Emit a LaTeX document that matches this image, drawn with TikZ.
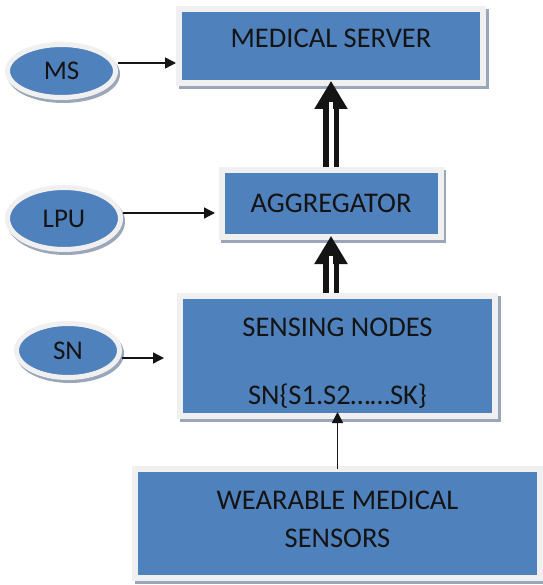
\documentclass[tikz,border=0pt]{standalone}
\usepackage{fontspec}
\setmainfont{Carlito}
\definecolor{officeblue}{HTML}{4F81BD}
\definecolor{rimgray}{HTML}{F0F0F0}
\definecolor{shadegray}{HTML}{9AA6BA}
\definecolor{inkblack}{HTML}{141414}
\usepackage{tikz}
\usetikzlibrary{arrows.meta,shadows,shapes.geometric}

\begin{document}
\begin{tikzpicture}[x=1pt,y=-1pt,
  block/.style={rectangle,fill=officeblue,draw=rimgray,line width=6pt,inner sep=0pt,
    text=inkblack,font=\fontsize{28.5}{33}\selectfont,align=center,
    drop shadow={shadow xshift=2.5pt,shadow yshift=-3pt,opacity=1,
      fill=shadegray,draw=shadegray,line width=6pt}},
  unit/.style={ellipse,fill=officeblue,draw=rimgray,line width=5pt,inner sep=0pt,
    text=inkblack,font=\fontsize{27}{32}\selectfont,
    drop shadow={shadow xshift=2pt,shadow yshift=-3pt,opacity=1,
      fill=shadegray,draw=shadegray,line width=5pt}},
  feed/.style={-{Triangle[width=11pt,length=11pt]},line width=1.4pt,inkblack},
  lift/.style={-{Triangle[width=32pt,length=28pt]},double=white,double distance=5pt,
    line width=5.5pt,inkblack,
    postaction={draw=white,line width=4pt,-,shorten >=16pt,shorten <=1pt}}]
  \useasboundingbox[fill=white] (0,0) rectangle (542,585);
  % boxes down the middle
  \node[block,minimum width=304pt,minimum height=74pt,text height=18.4pt,text depth=15pt]
    (server) at (331,46) {MEDICAL SERVER};
  \node[block,minimum width=219pt,minimum height=67pt,text height=18.4pt,text depth=0pt]
    (agg) at (331,203.5) {AGGREGATOR};
  \node[block,minimum width=315pt,minimum height=120pt]
    (sense) at (337.5,356) {\rule{0pt}{32pt}SENSING NODES\\[35pt]SN\{S1.S2……SK\}};
  \node[block,minimum width=405pt,minimum height=109pt]
    (wear) at (337.5,523.5) {WEARABLE MEDICAL\\[5pt]SENSORS\rule[-9pt]{0pt}{9pt}};
  % units on the left
  \node[unit,minimum width=108pt,minimum height=53pt] (ms) at (61.5,71) {MS};
  \node[unit,minimum width=113pt,minimum height=62pt] (lpu) at (64,218.5) {LPU};
  \node[unit,minimum width=103pt,minimum height=54pt] (sn) at (68,350.5) {SN};
  % thin feeds
  \draw[feed] ([yshift=8pt]ms.east) -- ([yshift=8pt]ms.east -| server.west);
  \draw[feed,shorten >=3.5pt] ([yshift=5.5pt]lpu.east) -- ([yshift=5.5pt]lpu.east -| agg.west);
  \draw[feed,shorten >=13pt] ([yshift=-7.5pt]sn.east) -- ([yshift=-7.5pt]sn.east -| sense.west);
  \draw[feed,shorten <=-3pt,shorten >=-7pt] (wear.north) -- (sense.south);
  % hollow arrows up the middle
  \draw[lift,shorten >=-5pt] (agg.north) -- (server.south);
  \draw[lift,shorten >=-4pt] (sense.north -| agg.south) -- (agg.south);
\end{tikzpicture}
\end{document}
